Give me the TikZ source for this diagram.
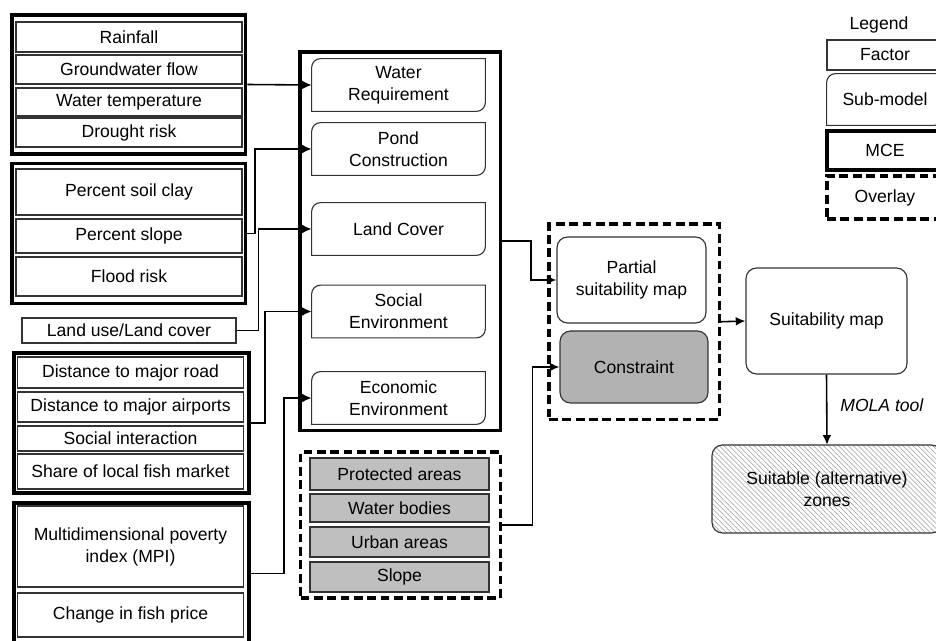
\documentclass[tikz,border=0pt]{standalone}
\usepackage{fontspec}
\setmainfont{Liberation Sans}
\usetikzlibrary{arrows.meta,calc,patterns.meta}

\tikzset{
    factor/.style={draw=black!80, line width=0.65pt, minimum width=4.52cm, inner sep=1pt, align=center},
    constr/.style={factor, fill=black!25, minimum width=3.58cm},
    mce/.style={draw, line width=2.2pt, inner sep=0pt},
    overlay/.style={draw, line width=1.8pt, dash pattern=on 5pt off 2.6pt, inner sep=0pt},
    submodel/.style={minimum width=3.46cm, minimum height=1.04cm, align=center, inner sep=1pt},
    roundbox/.style={draw=black!80, line width=0.65pt, rounded corners=6pt, align=center},
    link/.style={line width=0.9pt, -{Latex[length=5.5pt,width=5pt]}}
}

\begin{document}
\begin{tikzpicture}[x=0.02cm, y=-0.02cm, font=\fontsize{10}{12.5}\selectfont]
        \path[use as bounding box, clip] (0,0) rectangle (936,641);
        % factors and their MCE groups
        \node[mce, minimum width=4.67cm, minimum height=2.78cm] (g1) at (128.75,84.5){};
        \node[factor, minimum height=0.6cm] (rain) at (129,37){Rainfall};
        \node[factor, minimum height=0.58cm] (gw) at (129,69.5){Groundwater flow};
        \node[factor, minimum height=0.56cm] (wt) at (129,102){Water temperature};
        \node[factor, minimum height=0.58cm] (dr) at (129,132.5){Drought risk};
        \node[mce, minimum width=4.67cm, minimum height=2.8cm] (g2) at (128.75,233.5){};
        \node[factor, minimum height=0.92cm] (clay) at (129,192){Percent soil clay};
        \node[factor, minimum height=0.68cm] (pslope) at (129,236){Percent slope};
        \node[factor, minimum height=0.78cm] (flood) at (129,276.5){Flood risk};
        \node[factor, minimum width=4.28cm, minimum height=0.5cm] (lu) at (129,330.5){Land use/Land cover};
        \node[mce, minimum width=4.7cm, minimum height=2.79cm] (g3) at (131.5,423){};
        \node[factor, minimum height=0.62cm] (road) at (130.5,372.5){Distance to major road};
        \node[factor, minimum height=0.6cm] (air) at (130.5,407){Distance to major airports};
        \node[factor, minimum height=0.5cm] (soc) at (130.5,438.5){Social interaction};
        \node[factor, minimum height=0.7cm] (fish) at (130.5,471.5){Share of local fish market};
        \node[mce, minimum width=4.7cm, minimum height=2.82cm] (g4) at (131.5,573.5){};
        \node[factor, minimum height=1.62cm] (mpi) at (130.5,546.5){Multidimensional poverty\\index (MPI)};
        \node[factor, minimum height=0.88cm] (price) at (130.5,615){Change in fish price};
        % sub-models
        \node[mce, minimum width=4.01cm, minimum height=7.57cm] (sub) at (400.25,241.25){};
        \node[submodel] (wr) at (398.5,85){Water\\Requirement};
        \node[submodel] (pc) at (398.5,149){Pond\\Construction};
        \node[submodel] (lc) at (398.5,229){Land Cover};
        \node[submodel] (se) at (398.5,311.5){Social\\Environment};
        \node[submodel] (ee) at (398.5,398){Economic\\Environment};
        % constraints
        \node[overlay, minimum width=4cm, minimum height=2.92cm] (ov1) at (400.5,525){};
        \node[constr, minimum height=0.64cm] (prot) at (399.5,474){Protected areas};
        \node[constr, minimum height=0.56cm] (wb) at (399.5,508){Water bodies};
        \node[constr, minimum height=0.6cm] (urb) at (399.5,542){Urban areas};
        \node[constr, minimum height=0.6cm] (cslope) at (399.5,577){Slope};
        % overlay and result
        \node[overlay, minimum width=3.41cm, minimum height=3.91cm] (ov2) at (634.25,321.75){};
        \node[roundbox, minimum width=2.98cm, minimum height=1.72cm] (part) at (631.5,280){Partial\\suitability map};
        \node[roundbox, fill=black!30, minimum width=2.96cm, minimum height=1.44cm] (con) at (634,367){Constraint};
        \node[roundbox, minimum width=3.22cm, minimum height=2.12cm] (suit) at (826.5,321){Suitability map};
        \node[roundbox, pattern={Lines[angle=-45, distance=2pt, line width=0.3pt]}, pattern color=black!40,
              minimum width=4.6cm, minimum height=1.76cm] (zones) at (827,489){Suitable (alternative)\\zones};
        % legend
        \node (leg) at (879,25){Legend};
        \node[factor, minimum width=2.32cm, minimum height=0.6cm] (lfac) at (885,55){Factor};
        \node[submodel, minimum width=2.32cm, minimum height=1.02cm] (lsm) at (885,99.5){Sub-model};
        \node[mce, minimum width=2.32cm, minimum height=0.78cm] (lmce) at (885,150.5){MCE};
        \node[overlay, minimum width=2.32cm, minimum height=0.86cm] (lov) at (885,197.5){Overlay};
        % sub-model outlines, round on two diagonal corners
        \foreach \n in {wr,pc,lc,se,ee,lsm}
            \draw[black!80, line width=0.65pt] (\n.south west) -- ($(\n.north west)+(0,-5pt)$)
                arc[start angle=180, end angle=90, radius=5pt] -- (\n.north east)
                -- ($(\n.south east)+(0,5pt)$) arc[start angle=0, end angle=-90, radius=5pt] -- cycle;
        % connectors
        \draw[link] (g1.east) -- (wr.west);
        \draw[link] (g2.east) -- ++(7.5,0) |- (pc.west);
        \draw[link] (lu.east) -- ++(22,0) |- (lc.west);
        \draw[link] (g3.east) -- ++(14,0) |- (se.west);
        \draw[link] (g4.east) -- ++(33,0) |- (ee.west);
        \draw[link] (sub.east) -- ++(28.5,0) |- (part.west);
        \draw[link] (ov1.east) -- ++(30.5,0) |- (con.west);
        \draw[link] (ov2.east) -- (suit.west);
        \draw[link] (suit.south) -- node[pos=0.44, right=4pt, font=\fontsize{10}{12.5}\selectfont\itshape]{MOLA tool} (zones.north);
    \end{tikzpicture}
\end{document}
